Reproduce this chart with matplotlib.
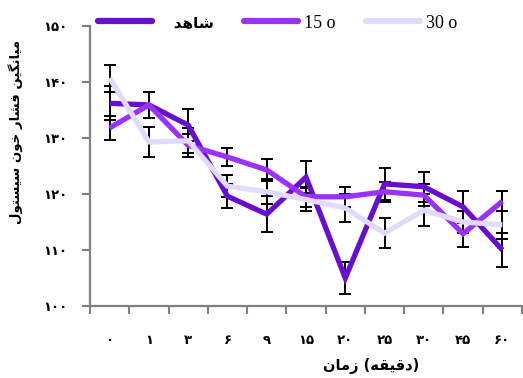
#!/usr/bin/env python3
"""Mean systolic blood pressure over time, three groups, with error bars."""
import matplotlib

matplotlib.use("Agg")
import matplotlib.pyplot as plt
import numpy as np

# Arabic text is kept in presentation forms, already in visual (left-to-right) order,
# because matplotlib does no shaping or bidi on its own.
SERIES = ["\uFEAA\uFEEB\uFE8E\uFEB7", "15 o", "30 o"]          # شاهد, 15 o, 30 o
TIMES = ["۰", "۱", "۳", "۶", "۹", "۱۵", "۲۰", "۲۵", "۳۰", "۴۵", "۶۰"]
YTICKS = [100, 110, 120, 130, 140, 150]
YTICK_LABELS = ["۱۰۰", "۱۱۰", "۱۲۰", "۱۳۰", "۱۴۰", "۱۵۰"]

control = [136.2, 135.9, 132.3, 119.6, 116.4, 123.0, 105.0, 121.8, 121.3, 117.7, 110.0]
o15 = [131.8, 135.9, 128.7, 126.6, 124.3, 119.5, 119.5, 120.4, 119.8, 112.9, 118.7]
o30 = [140.7, 129.3, 129.5, 121.4, 120.4, 119.0, 117.5, 113.0, 117.1, 115.0, 114.5]

control_err = [3.0, 2.3, 2.9, 2.1, 3.2, 2.9, 2.8, 2.9, 2.7, 2.9, 3.0]
o15_err = [2.2, 2.3, 2.1, 1.6, 2.0, 1.8, 1.8, 1.8, 2.0, 2.3, 1.8]
o30_err = [2.4, 2.7, 2.2, 2.0, 2.2, 2.0, 2.5, 2.7, 2.9, 2.0, 2.5]

COLORS = ["#6a0dd2", "#9b30ff", "#e2dafe"]
INK = "black"
AXIS = "#808080"

# visual-order strings: "زمان (دقیقه)" and "میانگین فشار خون سیستول"
XLABEL = "\uFEE5\uFE8E\uFEE3\uFEAF (\uFEEA\uFED8\uFEF4\uFED7\uFEA9)"
YLABEL = ("\uFEDD\uFEEE\uFE98\uFEB4\uFEF4\uFEB3 "
          "\uFEE5\uFEEE\uFEA7 "
          "\uFEAD\uFE8E\uFEB8\uFED3 "
          "\uFEE6\uFEF4\uFB95\uFEE7\uFE8E\uFEF4\uFEE3")

plt.rcParams["font.family"] = ["DejaVu Sans", "Noto Sans"]

fig = plt.figure(figsize=(5.23, 3.78), dpi=100)
ax = fig.add_axes([90 / 523, 1 - 306 / 378, 432 / 523, 280 / 378])

x = np.arange(len(TIMES))
series = [control, o15, o30]
errs = [control_err, o15_err, o30_err]

for vals, err in zip(series, errs):
    ax.errorbar(x, vals, yerr=err, fmt="none", ecolor=INK, elinewidth=1.4,
                capsize=4.5, capthick=1.4, zorder=2)
for vals, col, name in zip(series, COLORS, SERIES):
    ax.plot(x, vals, color=col, lw=3.8, label=name, zorder=3,
            solid_capstyle="butt", solid_joinstyle="miter")

ax.set_xlim(-0.5, len(TIMES) - 0.5)
ax.set_ylim(100, 150)
ax.set_yticks(YTICKS)
ax.set_yticklabels(YTICK_LABELS, fontsize=9.5, fontweight="bold")
ax.set_xticks(x)
ax.set_xticklabels(TIMES, fontsize=9.5, fontweight="bold")
ax.set_xticks(np.arange(-0.5, len(TIMES), 1), minor=True)
ax.tick_params(axis="x", which="major", length=0, pad=20)
ax.tick_params(axis="x", which="minor", length=6, width=1.5, color=AXIS, direction="out")
ax.tick_params(axis="y", length=6, width=1.5, color=AXIS, pad=10)

for s in ("top", "right"):
    ax.spines[s].set_visible(False)
for s in ("left", "bottom"):
    ax.spines[s].set_color(AXIS)
    ax.spines[s].set_linewidth(1.6)

ax.set_xlabel(XLABEL, fontsize=10.5, fontweight="bold")
ax.xaxis.set_label_coords(0.65, -0.185)
ax.set_ylabel(YLABEL, fontsize=9.5, fontweight="bold")
ax.yaxis.set_label_coords(-0.155, 0.62)

leg = fig.legend(loc="center left", bbox_to_anchor=(98 / 523, 1 - 23 / 378), ncol=3,
                 frameon=False, fontsize=13, handlelength=3.0, handletextpad=0.3,
                 columnspacing=1.7, borderpad=0, borderaxespad=0)
for t in leg.get_texts()[1:]:
    t.set_fontfamily(["Liberation Serif", "DejaVu Serif"])
leg.get_texts()[0].set_text("   " + SERIES[0])
leg.get_texts()[0].set_fontweight("bold")
leg.get_texts()[0].set_fontsize(11)
for h in leg.get_lines():
    h.set_linewidth(4.5)
    h.set_solid_capstyle("round")

fig.savefig("out.png", dpi=100)
